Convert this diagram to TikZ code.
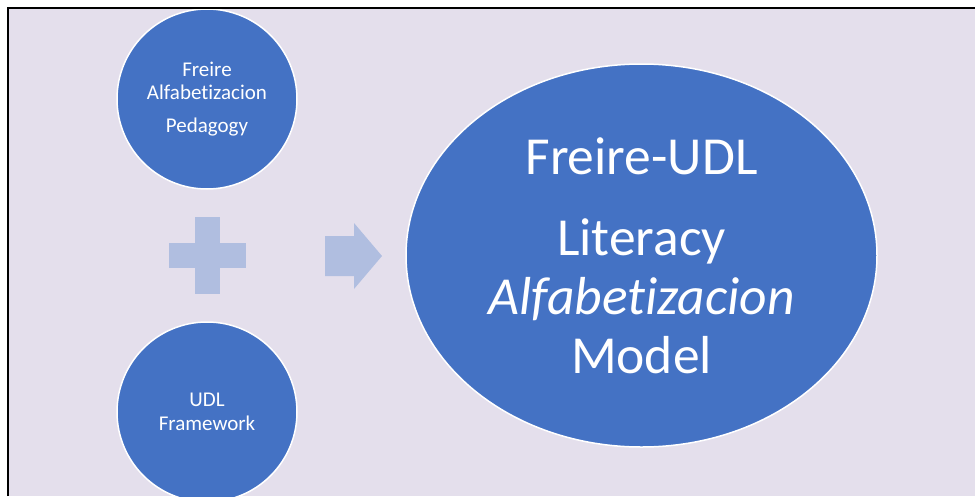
\documentclass[tikz,border=0pt]{standalone}
\usepackage{fontspec}
\setmainfont{Carlito}[Ligatures=NoCommon]
\usepackage{tikz}
\usetikzlibrary{shapes.geometric,positioning}
\definecolor{paleback}{RGB}{228,223,236}
\definecolor{officeblue}{RGB}{68,114,196}
\definecolor{softblue}{RGB}{176,190,224}

\begin{document}
\begin{tikzpicture}[x=1pt,y=-1pt,
  smallcirc/.style={circle,draw=white,line width=1.5pt,fill=officeblue,
    minimum size=180pt,inner sep=0pt,align=center,text=white,
    font=\fontsize{21}{23.5}\selectfont},
  bigoval/.style={ellipse,draw=white,line width=1.5pt,fill=officeblue,
    minimum width=471pt,minimum height=383pt,inner sep=0pt,align=center,
    text=white,font=\fontsize{53.5}{59}\selectfont},
  sign/.style={fill=softblue},
]
  \useasboundingbox (0,0) rectangle (975,496);
  % background and frame
  \fill[white] (0,0) rectangle (975,496);
  \fill[paleback] (7.5,8) rectangle (975,496);
  \draw[black,line width=2pt] (7.5,496) -- (7.5,8) -- (975,8);

  \begin{scope}
    \clip (8.5,9) rectangle (975,496);
    \node[smallcirc] (freire) at (207,99) {Freire\\Alfabetizacion\\[9pt]Pedagogy};
    \node[smallcirc] (udl)    at (207,412) {UDL\\Framework};
    \node[bigoval]   (model)  at (641.5,255.5)
      {Freire-UDL\\[22pt]Literacy\\\textit{Alfabetizacion}\\Model};
  \end{scope}

  % plus sign
  \coordinate (plus) at (207.5,255.5);
  \fill[sign] ([xshift=-12.5pt,yshift=-38.5pt]plus) rectangle ([xshift=12.5pt,yshift=38.5pt]plus);
  \fill[sign] ([xshift=-38.5pt,yshift=-12.5pt]plus) rectangle ([xshift=38.5pt,yshift=12.5pt]plus);

  % block arrow
  \coordinate (tip) at (382,256);
  \fill[sign] (325,236) -- (354,236) -- (354,223) -- (tip) -- (354,289)
    -- (354,276) -- (325,276) -- cycle;
\end{tikzpicture}
\end{document}
